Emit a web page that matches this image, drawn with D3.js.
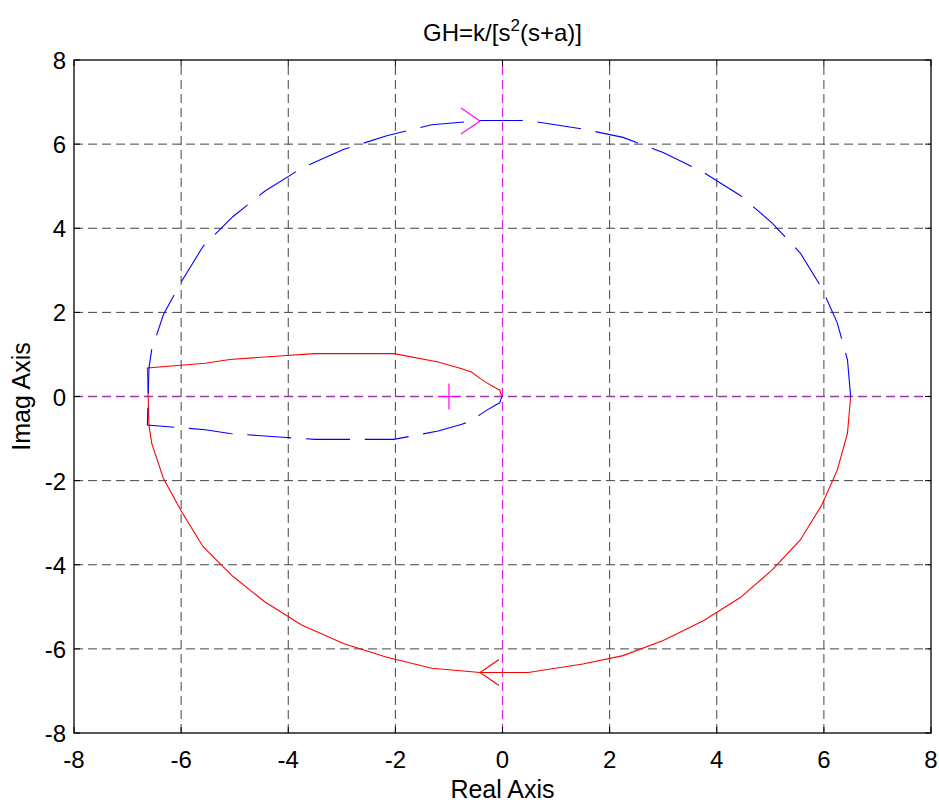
<!DOCTYPE html>
<html>
<head>
<meta charset="utf-8">
<script src="https://cdn.jsdelivr.net/npm/d3@7"></script>
<style>
  html, body { margin: 0; padding: 0; background: #fff; }
  svg { display: block; }
  text { font-family: "Liberation Sans", Arial, Helvetica, sans-serif; fill: #000; }
</style>
</head>
<body>
<svg id="chart" width="939" height="803"></svg>
<script>
// Nyquist plot of GH = k/[s^2(s+a)]
const titleMain = "GH=k/[s";
const titleSup = "2";
const titleTail = "(s+a)]";
const xLabel = "Real Axis";
const yLabel = "Imag Axis";

const xTicks = [-8, -6, -4, -2, 0, 2, 4, 6, 8];
const yTicks = [-8, -6, -4, -2, 0, 2, 4, 6, 8];
const xTickLabels = ["-8", "-6", "-4", "-2", "0", "2", "4", "6", "8"];
const yTickLabels = ["-8", "-6", "-4", "-2", "0", "2", "4", "6", "8"];

// Positive-frequency branch (solid red): real and imaginary parts,
// from the origin, round the small lobe, down the left edge and along the big arc.
const posRe = [0.00, -0.03, -0.05, -0.11, -0.30, -0.42, -0.58, -0.76, -1.20, -2.03, -3.50, -4.10, -5.09, -5.55, -6.63,
               -6.60, -6.55, -6.33, -5.99, -5.59, -5.03, -4.44, -3.75, -2.97, -2.16, -1.32, -0.42, 0.48,
               1.50, 2.25, 3.00, 3.75, 4.44, 5.03, 5.56, 5.96, 6.25, 6.44, 6.50];
const posIm = [0.00, 0.06, 0.15, 0.19, 0.33, 0.43, 0.58, 0.66, 0.82, 1.02, 1.02, 0.97, 0.88, 0.79, 0.68,
               -0.68, -1.11, -1.95, -2.74, -3.57, -4.28, -4.88, -5.43, -5.87, -6.20, -6.46, -6.56, -6.56,
               -6.36, -6.16, -5.80, -5.33, -4.78, -4.13, -3.41, -2.58, -1.75, -0.88, 0.00];

// Negative-frequency branch (dashed blue) is the complex conjugate, traced from the far right end.
const negRe = posRe.slice().reverse();
const negIm = posIm.map(v => -v).reverse();

// Direction arrows (tip position) and the critical point
const arrowTips = [
  { re: -0.42, im: 6.55, dir: 1, color: "#ff00ff" },
  { re: -0.42, im: -6.56, dir: -1, color: "#ff0000" }
];
const criticalPoint = { re: -1, im: 0 };

const svg = d3.select("#chart");
const margin = { left: 74, right: 8, top: 60, bottom: 70 };
const W = 939, H = 803;

const x = d3.scaleLinear().domain([-8, 8]).range([margin.left, W - margin.right]);
const y = d3.scaleLinear().domain([-8, 8]).range([H - margin.bottom, margin.top]);

const g = svg.append("g");

// Grid
g.append("g").selectAll("line").data(xTicks.filter(v => v !== 0 && v !== -8 && v !== 8)).join("line")
  .attr("x1", d => x(d)).attr("x2", d => x(d))
  .attr("y1", y(-8)).attr("y2", y(8))
  .attr("stroke", "#444").attr("stroke-width", 1).attr("stroke-dasharray", "9,5");
g.append("g").selectAll("line").data(yTicks.filter(v => v !== 0 && v !== -8 && v !== 8)).join("line")
  .attr("y1", d => y(d)).attr("y2", d => y(d))
  .attr("x1", x(-8)).attr("x2", x(8))
  .attr("stroke", "#444").attr("stroke-width", 1).attr("stroke-dasharray", "9,5");

// Zero lines
g.append("line")
  .attr("x1", x(-8)).attr("x2", x(8)).attr("y1", y(0)).attr("y2", y(0))
  .attr("stroke", "#9a36ae").attr("stroke-width", 1.3).attr("stroke-dasharray", "9,5");
g.append("line")
  .attr("x1", x(0)).attr("x2", x(0)).attr("y1", y(-8)).attr("y2", y(8))
  .attr("stroke", "#dd22dd").attr("stroke-width", 1.2).attr("stroke-dasharray", "9,5");

const line = d3.line().x(d => x(d[0])).y(d => y(d[1]));

// Positive-frequency branch
g.append("path")
  .datum(posRe.map((r, i) => [r, posIm[i]]))
  .attr("d", line)
  .attr("fill", "none").attr("stroke", "#ff0000").attr("stroke-width", 1.1);

// Negative-frequency branch: dash period fitted so that a dash starts at the
// right-hand end and a short final dash runs into the origin
const negPath = g.append("path")
  .datum(negRe.map((r, i) => [r, negIm[i]]))
  .attr("d", line)
  .attr("fill", "none").attr("stroke", "#0000ff").attr("stroke-width", 1.1);
{
  const L = negPath.node().getTotalLength();
  const n = Math.round((L - 32) / 60);
  const period = (L - 32) / n;
  negPath.attr("stroke-dasharray", `${(period * 0.75).toFixed(2)},${(period * 0.25).toFixed(2)}`);
}

// Arrow heads
arrowTips.forEach(a => {
  const tx = x(a.re), ty = y(a.im);
  const back = -a.dir * 19;
  g.append("path")
    .attr("d", `M${tx + back},${ty - 13}L${tx},${ty}L${tx + back},${ty + 13}`)
    .attr("fill", "none").attr("stroke", a.color).attr("stroke-width", 1.1);
});

// Critical point (-1, 0)
{
  const cx = x(criticalPoint.re), cy = y(criticalPoint.im);
  g.append("path")
    .attr("d", `M${cx},${cy - 13}L${cx},${cy + 13}M${cx - 11},${cy}L${cx + 11},${cy}`)
    .attr("stroke", "#ff00ff").attr("stroke-width", 1.2);
}

// Frame
g.append("rect")
  .attr("x", x(-8)).attr("y", y(8))
  .attr("width", x(8) - x(-8)).attr("height", y(-8) - y(8))
  .attr("fill", "none").attr("stroke", "#000").attr("stroke-width", 1.3);

// Inward ticks on all four sides
const tl = 6;
const ticks = g.append("g").attr("stroke", "#000").attr("stroke-width", 1);
xTicks.forEach(v => {
  ticks.append("line").attr("x1", x(v)).attr("x2", x(v)).attr("y1", y(-8)).attr("y2", y(-8) - tl);
  ticks.append("line").attr("x1", x(v)).attr("x2", x(v)).attr("y1", y(8)).attr("y2", y(8) + tl);
});
yTicks.forEach(v => {
  ticks.append("line").attr("y1", y(v)).attr("y2", y(v)).attr("x1", x(-8)).attr("x2", x(-8) + tl);
  ticks.append("line").attr("y1", y(v)).attr("y2", y(v)).attr("x1", x(8)).attr("x2", x(8) - tl);
});

// Tick labels
const fs = 24;
g.append("g").selectAll("text").data(xTicks).join("text")
  .attr("x", d => x(d)).attr("y", y(-8) + 35)
  .attr("text-anchor", "middle").attr("font-size", fs)
  .text((d, i) => xTickLabels[i]);
g.append("g").selectAll("text").data(yTicks).join("text")
  .attr("x", x(-8) - 8).attr("y", d => y(d) + 9)
  .attr("text-anchor", "end").attr("font-size", fs)
  .text((d, i) => yTickLabels[i]);

// Axis labels
svg.append("text").attr("x", (x(-8) + x(8)) / 2).attr("y", 798)
  .attr("text-anchor", "middle").attr("font-size", 25).text(xLabel);
svg.append("text")
  .attr("transform", `translate(30,${(y(-8) + y(8)) / 2}) rotate(-90)`)
  .attr("text-anchor", "middle").attr("font-size", 25).text(yLabel);

// Title with superscript
const t = svg.append("text").attr("x", (x(-8) + x(8)) / 2).attr("y", 41)
  .attr("text-anchor", "middle").attr("font-size", 24);
t.append("tspan").text(titleMain);
t.append("tspan").attr("font-size", 17).attr("dy", -10).text(titleSup);
t.append("tspan").attr("dy", 10).text(titleTail);
</script>
</body>
</html>
